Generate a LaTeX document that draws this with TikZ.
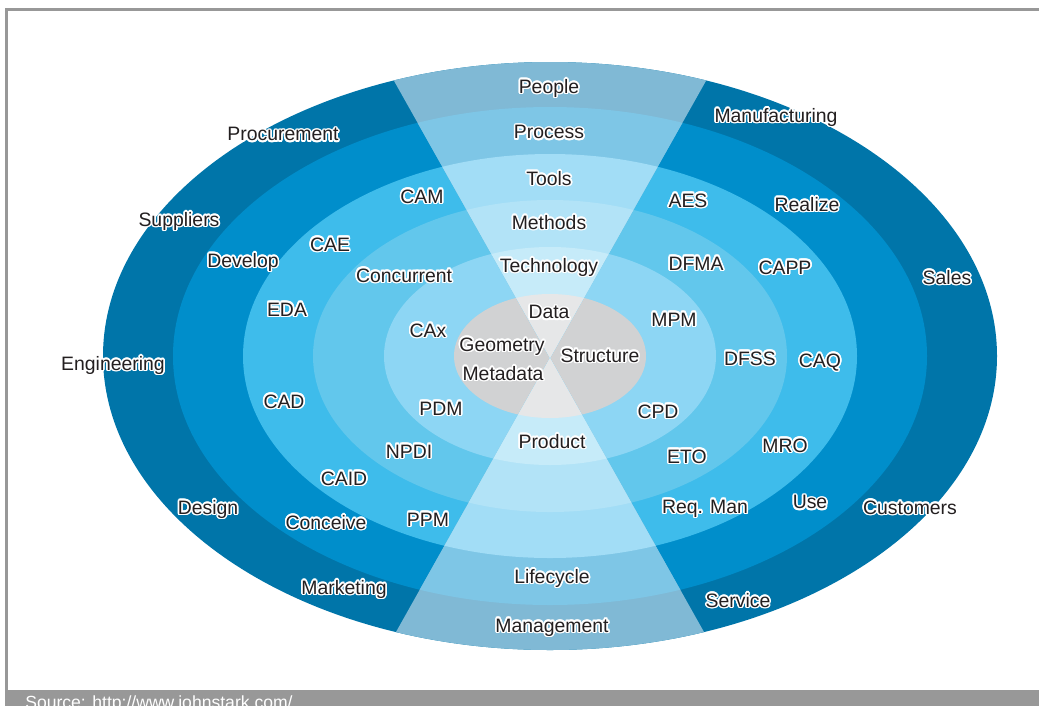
\documentclass[tikz,border=0pt]{standalone}
\usepackage{fontspec}
\setmainfont{Liberation Sans}
\usepackage{contour}
\contourlength{1.1pt}
\definecolor{ink}{HTML}{231F20}
\definecolor{framegray}{HTML}{989898}
\definecolor{ringa}{HTML}{0075A9}
\definecolor{ringb}{HTML}{008ECB}
\definecolor{ringc}{HTML}{3EBCEB}
\definecolor{ringd}{HTML}{62C7EC}
\definecolor{ringe}{HTML}{8DD6F4}
\definecolor{core}{HTML}{D1D2D3}
\definecolor{wedgea}{HTML}{80B9D5}
\definecolor{wedgeb}{HTML}{7EC6E6}
\definecolor{wedgec}{HTML}{A2DDF6}
\definecolor{wedged}{HTML}{B2E3F7}
\definecolor{wedgee}{HTML}{C6EBF9}
\definecolor{wedgecore}{HTML}{E6E7E8}
\begin{document}
\begin{tikzpicture}[x=0.025cm,y=-0.025cm,
    lbl/.style={inner sep=0pt, yshift=-1.5pt, text=ink, font=\fontsize{13.8}{16}\selectfont}]
  \useasboundingbox (0,0) rectangle (1039,706);
  % frame and source bar
  \fill[framegray] (5,8) rectangle (1039,11);
  \fill[framegray] (5,8) rectangle (8,706);
  \fill[framegray] (5,690) rectangle (1039,706);
  \node[anchor=north west, inner sep=0pt, text=white, font=\fontsize{12.5}{14}\selectfont] (src) at (25,695) {Source: http://www.johnstark.com/};
  % rings
  \foreach \rx/\ry/\c in {447/294/ringa, 377/249/ringb, 307/202/ringc, 237/156/ringd, 166/109/ringe, 96/62/core}
    \fill[\c] (550,356) ellipse [x radius=\rx, y radius=\ry];
  % hourglass
  \begin{scope}
    \clip (371,40) -- (729,40) -- (550,358) -- cycle (369,680) -- (731,680) -- (550,358) -- cycle;
    \foreach \rx/\ry/\c in {447/294/wedgea, 377/249/wedgeb, 307/202/wedgec, 237/156/wedged, 166/109/wedgee, 96/62/wedgecore}
      \fill[\c] (550,356) ellipse [x radius=\rx, y radius=\ry];
  \end{scope}
  % centre column
  \node[lbl] (people) at (549,87) {\contour{white}{People}};
  \node[lbl] (process) at (549,131) {\contour{white}{Process}};
  \node[lbl] (tools) at (549,177) {\contour{white}{Tools}};
  \node[lbl] (methods) at (549,221) {\contour{white}{Methods}};
  \node[lbl] (technology) at (549,266) {\contour{white}{Technology}};
  \node[lbl] (data) at (549,311) {\contour{white}{Data}};
  \node[lbl] (geometry) at (502,345) {\contour{white}{Geometry}};
  \node[lbl] (metadata) at (503,372) {\contour{white}{Metadata}};
  \node[lbl] (structure) at (600,354) {\contour{white}{Structure}};
  \node[lbl] (product) at (552,440) {\contour{white}{Product}};
  \node[lbl] (lifecycle) at (552,577) {\contour{white}{Lifecycle}};
  \node[lbl] (management) at (552,626) {\contour{white}{Management}};
  % outer ring
  \node[lbl] (procurement) at (283,133) {\contour{white}{Procurement}};
  \node[lbl] (manufacturing) at (776,116) {\contour{white}{Manufacturing}};
  \node[lbl] (suppliers) at (179,220) {\contour{white}{Suppliers}};
  \node[lbl] (sales) at (947,276) {\contour{white}{Sales}};
  \node[lbl] (engineering) at (113,364) {\contour{white}{Engineering}};
  \node[lbl] (design) at (208,508) {\contour{white}{Design}};
  \node[lbl] (customers) at (910,506) {\contour{white}{Customers}};
  \node[lbl] (marketing) at (344,588) {\contour{white}{Marketing}};
  \node[lbl] (service) at (738,599) {\contour{white}{Service}};
  % second ring
  \node[lbl] (develop) at (243,261) {\contour{white}{Develop}};
  \node[lbl] (realize) at (807,203) {\contour{white}{Realize}};
  \node[lbl] (use) at (810,501) {\contour{white}{Use}};
  \node[lbl] (conceive) at (326,521) {\contour{white}{Conceive}};
  % third ring
  \node[lbl] (cam) at (422,195) {\contour{white}{CAM}};
  \node[lbl] (cae) at (330,243) {\contour{white}{CAE}};
  \node[lbl] (aes) at (688,199) {\contour{white}{AES}};
  \node[lbl] (capp) at (785,266) {\contour{white}{CAPP}};
  \node[lbl] (eda) at (287,308) {\contour{white}{EDA}};
  \node[lbl] (caq) at (820,361) {\contour{white}{CAQ}};
  \node[lbl] (cad) at (284,400) {\contour{white}{CAD}};
  \node[lbl] (mro) at (785,444) {\contour{white}{MRO}};
  \node[lbl] (caid) at (344,477) {\contour{white}{CAID}};
  \node[lbl] (reqman) at (705,507) {\contour{white}{Req. Man}};
  \node[lbl] (ppm) at (428,518) {\contour{white}{PPM}};
  % fourth ring
  \node[lbl] (concurrent) at (404,274) {\contour{white}{Concurrent}};
  \node[lbl] (dfma) at (696,262) {\contour{white}{DFMA}};
  \node[lbl] (dfss) at (750,357) {\contour{white}{DFSS}};
  \node[lbl] (npdi) at (409,450) {\contour{white}{NPDI}};
  \node[lbl] (eto) at (687,455) {\contour{white}{ETO}};
  % fifth ring
  \node[lbl] (cax) at (428,329) {\contour{white}{CAx}};
  \node[lbl] (mpm) at (674,318) {\contour{white}{MPM}};
  \node[lbl] (pdm) at (441,407) {\contour{white}{PDM}};
  \node[lbl] (cpd) at (658,410) {\contour{white}{CPD}};
\end{tikzpicture}
\end{document}
